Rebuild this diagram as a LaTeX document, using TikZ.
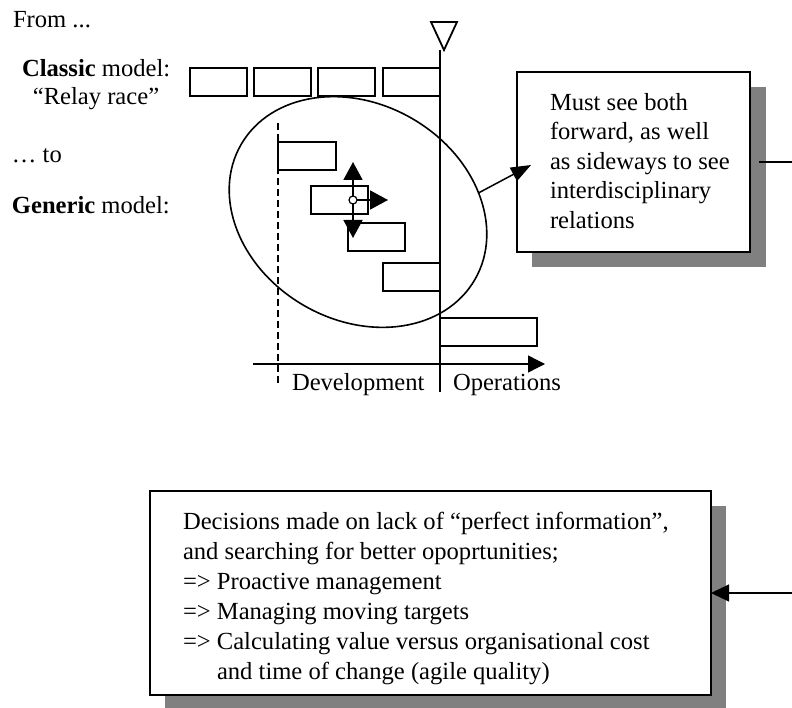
\documentclass[tikz,border=0pt]{standalone}
\usepackage{fontspec}
\setmainfont{Liberation Serif}
\usetikzlibrary{arrows.meta,shapes.geometric}
\begin{document}
\begin{tikzpicture}[x=1pt,y=-1pt,
  every node/.style={inner sep=0pt, outer sep=0pt},
  txt/.style={anchor=base west, font=\fontsize{24.6}{29.5}\selectfont},
  phase/.style={draw, line width=1.4pt, anchor=north west, minimum width=57pt, minimum height=28pt},
  shade/.style={fill=black!50, draw=none},
  callout/.style={draw, line width=1.6pt, fill=white, anchor=north west},
  bighead/.style={-{Triangle[length=18pt,width=19pt]}},
  thin/.style={line width=1.4pt},
  dashline/.style={line width=1.5pt, dash pattern=on 7pt off 4pt}
]
\useasboundingbox (0,0) rectangle (792,708);

% left-hand labels
\node[txt] (from) at (13,28) {From ...};
\node[txt] (classic) at (22,77) {\textbf{Classic} model:};
\node[txt, anchor=base] (relay) at (96,105) {“Relay race”};
\node[txt] (to) at (12,163) {… to};
\node[txt] (generic) at (12,214) {\textbf{Generic} model:};

% milestone marker and time line
\draw[line width=1.8pt, line join=miter] (431,22) -- (457,22) -- (444,50) -- cycle;
\coordinate (msTop) at (440,50);
\coordinate (msBot) at (440,392);
\draw[line width=1.8pt] (msTop) -- (msBot);

% classic sequential phases
\node[phase] (c1) at (190,68) {};
\node[phase] (c2) at (254,68) {};
\node[phase] (c3) at (318,68) {};
\node[phase] (c4) at (383,68) {};

% start of development
\coordinate (dvTop) at (278,123);
\coordinate (dvBot) at (278,385);
\draw[dashline] (dvTop) -- (dvBot);

% overlapping generic phases
\node[phase, minimum width=58pt] (g1) at (278,142) {};
\node[phase] (g2) at (311,186) {};
\node[phase] (g3) at (348,223) {};
\node[phase] (g4) at (383,263) {};
\node[phase, minimum width=97pt] (g5) at (440,318) {};

% outlook arrows from the active phase
\coordinate (upTip) at (353,162);
\coordinate (dnTip) at (353,238);
\coordinate (rtTip) at (388,200);
\node[draw, circle, line width=1.2pt, fill=white, minimum size=8pt] (hub) at (353,200) {};
\draw[line width=1.8pt, bighead] (hub.north) -- (upTip);
\draw[line width=1.8pt, bighead] (hub.south) -- (dnTip);
\draw[line width=1.8pt, bighead] (hub.east) -- (rtTip);

% time axis
\coordinate (axL) at (253,364);
\coordinate (axR) at (545,364);
\draw[thin, -{Triangle[length=17pt,width=17pt]}] (axL) -- (axR);
\node[txt] (dev) at (292,390) {Development};
\node[txt] (ops) at (453,390) {Operations};

% scope of the generic model
\node[draw, ellipse, line width=1.6pt, minimum width=270pt, minimum height=216pt, rotate=-30] (ell) at (358,212) {};

% upper call-out
\fill[shade] (532,87) rectangle (766,267);
\node[callout, minimum width=233pt, minimum height=180pt] (rbox) at (517,72) {};
\node[txt] (r1) at (550,110.5) {Must see both};
\node[txt] (r2) at (550,140) {forward, as well};
\node[txt] (r3) at (550,169.5) {as sideways to see};
\node[txt] (r4) at (550,199) {interdisciplinary};
\node[txt] (r5) at (550,228.5) {relations};
\coordinate (tipA) at (531,165);
\draw[line width=1.5pt, -{Triangle[length=20pt,width=15pt]}] (ell.39) -- (tipA);
\coordinate (rEnd) at (792,162);
\draw[thin] ([xshift=9pt]rbox.east) -- (rEnd);

% lower call-out
\fill[shade] (165,506) rectangle (726,712);
\node[callout, minimum width=561pt, minimum height=204pt] (bbox) at (150,491) {};
\node[txt] (d1) at (183,529) {Decisions made on lack of “perfect information”,};
\node[txt] (d2) at (183,559) {and searching for better opoprtunities;};
\node[txt] (d3) at (183,589) {=> Proactive management};
\node[txt] (d4) at (183,619) {=> Managing moving targets};
\node[txt] (d5) at (183,649) {=> Calculating value versus organisational cost};
\node[txt] (d6) at (217,679) {and time of change (agile quality)};
\coordinate (bEnd) at (792,593);
\draw[thin, -{Triangle[length=18pt,width=17pt]}] (bEnd) -- (bbox.east);
\end{tikzpicture}
\end{document}
